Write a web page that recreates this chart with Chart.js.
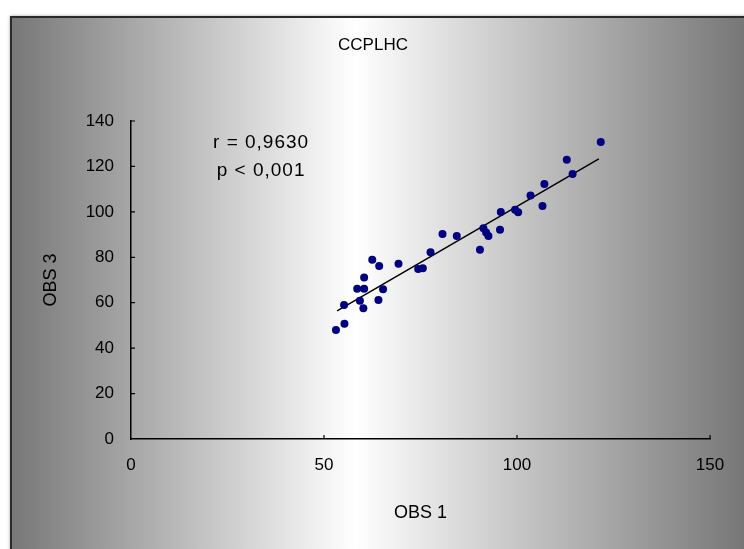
<!DOCTYPE html>
<html lang="pt">
<head>
  <meta charset="UTF-8">
  <script src="https://cdn.jsdelivr.net/npm/chart.js@4.4.0/dist/chart.umd.min.js"></script>
  <style>
    body { margin: 0; background: #fff; }
    canvas { display: block; }
  </style>
</head>
<body>
  <canvas id="scatter" width="744" height="549"></canvas>
  <script>
    // OBS 1 vs OBS 3 values
    const obs1 = [53.1, 55.3, 55.2, 58.6, 60.4, 59.3, 60.2, 60.4, 62.5, 64.3, 64.1, 65.3, 69.3, 74.4, 75.6, 77.6,
                  80.7, 84.4, 90.4, 91.3, 92.0, 92.6, 95.6, 95.8, 99.5, 100.3, 103.5, 106.6, 107.1, 112.9, 114.4, 121.7];
    const obs3 = [48.0, 50.7, 59.0, 66.1, 66.1, 60.9, 57.6, 71.1, 78.9, 76.2, 61.2, 65.9, 77.1, 74.8, 75.2, 82.2,
                  90.3, 89.4, 83.3, 92.8, 90.9, 89.4, 92.1, 99.9, 100.9, 99.8, 107.2, 102.6, 112.3, 122.9, 116.7, 130.8];
    // regression line ends
    const fitX = [53.4, 121.2];
    const fitY = [56.4, 123.3];
    const xTicks = [0, 50, 100, 150];
    const yTicks = [0, 20, 40, 60, 80, 100, 120, 140];
    const chartTitle = 'CCPLHC';
    const notes = ['r = 0,9630', 'p < 0,001'];
    const notePos = [[33.7, 130.4], [33.7, 118.0]];

    const font = 'Arial, "Liberation Sans", sans-serif';

    const frame = {
      id: 'frame',
      beforeDraw(chart) {
        const c = chart.ctx;
        c.save();
        c.fillStyle = '#fff';
        c.fillRect(0, 0, chart.width, chart.height);
        const g = c.createLinearGradient(10, 0, chart.width, 0);
        g.addColorStop(0, '#777');
        g.addColorStop(0.47, '#fff');
        g.addColorStop(1, '#777');
        c.shadowColor = 'rgba(0,0,0,0.35)';
        c.shadowBlur = 3;
        c.fillStyle = g;
        c.fillRect(10, 16, chart.width, chart.height);
        c.shadowBlur = 0;
        c.strokeStyle = '#2a2a2a';
        c.lineWidth = 2;
        c.beginPath();
        c.moveTo(11, chart.height + 2);
        c.lineTo(11, 17);
        c.lineTo(chart.width + 2, 17);
        c.stroke();
        c.restore();
      },
      afterDraw(chart) {
        const c = chart.ctx, x = chart.scales.x, y = chart.scales.y;
        c.save();
        c.strokeStyle = '#000';
        c.lineWidth = 1.2;
        c.beginPath();
        xTicks.slice(1).forEach(v => {
          const px = x.getPixelForValue(v);
          c.moveTo(px, y.bottom); c.lineTo(px, y.bottom - 4);
        });
        yTicks.slice(1).forEach(v => {
          const py = y.getPixelForValue(v);
          c.moveTo(x.left, py); c.lineTo(x.left + 4, py);
        });
        c.stroke();
        c.fillStyle = '#000';
        c.textAlign = 'center';
        c.textBaseline = 'middle';
        c.font = '17px ' + font;
        c.fillText(chartTitle, 373, 45);
        c.font = '19px ' + font;
        c.letterSpacing = '1px';
        notes.forEach((t, i) => {
          c.fillText(t, x.getPixelForValue(notePos[i][0]), y.getPixelForValue(notePos[i][1]));
        });
        c.restore();
      }
    };

    new Chart(document.getElementById('scatter'), {
      type: 'scatter',
      data: {
        datasets: [{
          data: obs1.map((v, i) => ({ x: v, y: obs3[i] })),
          backgroundColor: '#000080',
          borderWidth: 0,
          pointRadius: 4,
          pointHoverRadius: 4
        }, {
          type: 'line',
          data: fitX.map((v, i) => ({ x: v, y: fitY[i] })),
          borderColor: '#000',
          borderWidth: 1.5,
          pointRadius: 0,
          fill: false
        }]
      },
      options: {
        responsive: false,
        animation: false,
        layout: { padding: { left: 0, right: 34, top: 121, bottom: 0 } },
        plugins: {
          legend: { display: false },
          tooltip: { enabled: false },
          title: { display: false }
        },
        scales: {
          x: {
            type: 'linear',
            min: 0, max: 150,
            afterBuildTicks: s => { s.ticks = xTicks.map(v => ({ value: v })); },
            afterFit: s => { s.height = 110; },
            grid: { drawOnChartArea: false, drawTicks: false },
            border: { color: '#000', width: 1.5 },
            ticks: { color: '#000', padding: 16, font: { family: font, size: 17 } },
            title: { display: true, text: 'OBS 1', color: '#000', font: { family: font, size: 18, lineHeight: 1.2 }, padding: { top: 0, bottom: 25 } }
          },
          y: {
            type: 'linear',
            min: 0, max: 140,
            afterBuildTicks: s => { s.ticks = yTicks.map(v => ({ value: v })); },
            afterFit: s => { s.width = 131; },
            grid: { drawOnChartArea: false, drawTicks: false },
            border: { color: '#000', width: 1.5 },
            ticks: { color: '#000', padding: 17, font: { family: font, size: 17 } },
            title: { display: true, text: 'OBS 3', color: '#000', font: { family: font, size: 18, lineHeight: 1.2 }, padding: { top: 40, bottom: 0 } }
          }
        }
      },
      plugins: [frame]
    });
  </script>
</body>
</html>
